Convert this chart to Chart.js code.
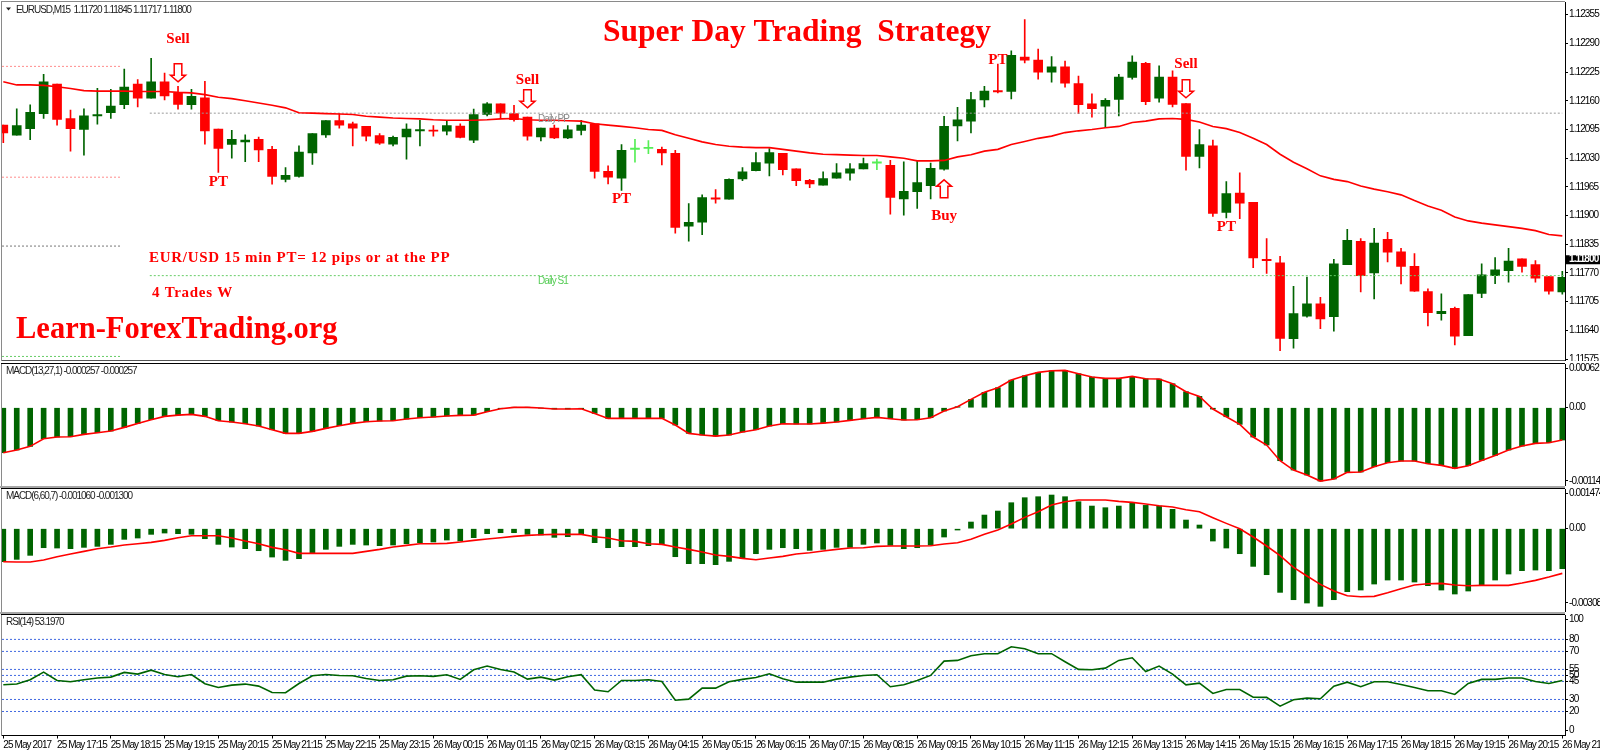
<!DOCTYPE html>
<html>
<head>
<meta charset="utf-8">
<title>Super Day Trading Strategy</title>
<script src="https://cdn.jsdelivr.net/npm/chart.js"></script>
<style>
  html, body { margin: 0; padding: 0; background: #fff; overflow: hidden; }
  canvas { position: absolute; left: 0; display: block; }
  .band { position: absolute; left: 0; width: 1565px; height: 2px; background: #a6a6a6; }
</style>
</head>
<body>
<canvas id="priceChart" width="1600" height="361" style="top:0"></canvas>
<canvas id="macdFast" width="1600" height="123" style="top:363px"></canvas>
<div class="band" style="top:486px"></div>
<canvas id="macdSlow" width="1600" height="124" style="top:488px"></canvas>
<div class="band" style="top:612px"></div>
<canvas id="rsiChart" width="1600" height="139" style="top:614px"></canvas>
<script>
// ── Data ──────────────────────────────────────────────────────────
const opens = [
  1.12105,1.12082,1.12097,1.12131,1.12198,1.12120,1.12095,1.12126,1.12133,1.12151,
  1.12198,1.12166,1.12203,1.12177,1.12151,1.12167,1.12096,1.12061,1.12067,1.12073,
  1.12050,1.11982,1.11989,1.12042,1.12083,1.12115,1.12108,1.12102,1.12081,1.12062,
  1.12078,1.12092,1.12093,1.12091,1.12103,1.12071,1.12129,1.12153,1.12131,1.12123,
  1.12078,1.12098,1.12076,1.12093,1.12108,1.12000,1.11985,1.12050,1.12052,1.12050,
  1.12041,1.11876,1.11885,1.11940,1.11937,1.11983,1.12002,1.12019,1.12041,1.12006,
  1.11980,1.11969,1.11985,1.11996,1.12006,1.12019,1.12014,1.11938,1.11954,1.11968,
  1.12005,1.12103,1.12114,1.12162,1.12183,1.12181,1.12259,1.12252,1.12225,1.12237,
  1.12199,1.12153,1.12148,1.12163,1.12213,1.12245,1.12166,1.12214,1.12154,1.12034,
  1.12058,1.11907,1.11951,1.11930,1.11801,1.11793,1.11621,1.11672,1.11700,1.11671,
  1.11789,1.11842,1.11770,1.11846,1.11818,1.11785,1.11728,1.11678,1.11690,1.11628,
  1.11724,1.11764,1.11775,1.11802,1.11789,1.11762,1.11727
]
const highs = [
  1.12105,1.12142,1.12151,1.12220,1.12198,1.12139,1.12142,1.12188,1.12186,1.12232,
  1.12208,1.12256,1.12223,1.12193,1.12186,1.12204,1.12096,1.12093,1.12083,1.12078,
  1.12057,1.12009,1.12058,1.12086,1.12115,1.12131,1.12112,1.12102,1.12086,1.12080,
  1.12108,1.12116,1.12104,1.12116,1.12108,1.12141,1.12156,1.12153,1.12150,1.12123,
  1.12098,1.12105,1.12104,1.12116,1.12108,1.12013,1.12061,1.12073,1.12070,1.12055,
  1.12048,1.11927,1.11947,1.11959,1.11983,1.12009,1.12043,1.12052,1.12041,1.12006,
  1.11982,1.11999,1.12018,1.12018,1.12030,1.12028,1.12025,1.12022,1.12024,1.12019,
  1.12125,1.12145,1.12179,1.12193,1.12243,1.12273,1.12344,1.12277,1.12260,1.12250,
  1.12216,1.12176,1.12165,1.12220,1.12262,1.12247,1.12239,1.12228,1.12154,1.12095,
  1.12071,1.11977,1.11997,1.11930,1.11848,1.11808,1.11740,1.11761,1.11715,1.11801,
  1.11869,1.11848,1.11871,1.11862,1.11826,1.11814,1.11734,1.11723,1.11693,1.11721,
  1.11791,1.11805,1.11826,1.11802,1.11798,1.11762,1.11774
]
const lows = [
  1.12065,1.12082,1.12072,1.12120,1.12105,1.12046,1.12037,1.12107,1.12120,1.12142,
  1.12146,1.12166,1.12162,1.12141,1.12141,1.12062,1.11998,1.12030,1.12022,1.12022,
  1.11971,1.11976,1.11987,1.12016,1.12077,1.12098,1.12058,1.12069,1.12061,1.12058,
  1.12028,1.12058,1.12080,1.12083,1.12076,1.12065,1.12126,1.12120,1.12114,1.12071,
  1.12069,1.12074,1.12074,1.12083,1.11985,1.11972,1.11957,1.12021,1.12040,1.12015,
  1.11860,1.11842,1.11857,1.11928,1.11937,1.11979,1.12001,1.11990,1.11992,1.11968,
  1.11963,1.11969,1.11985,1.11980,1.12006,1.12004,1.11903,1.11901,1.11916,1.11938,
  1.12003,1.12069,1.12087,1.12146,1.12178,1.12164,1.12246,1.12209,1.12202,1.12191,
  1.12131,1.12123,1.12099,1.12126,1.12209,1.12151,1.12157,1.12146,1.12003,1.12008,
  1.11898,1.11895,1.11893,1.11782,1.11769,1.11594,1.11600,1.11670,1.11644,1.11638,
  1.11789,1.11727,1.11711,1.11795,1.11745,1.11728,1.11650,1.11663,1.11607,1.11628,
  1.11714,1.11746,1.11749,1.11772,1.11749,1.11722,1.11722
]
const closes = [
  1.12087,1.12104,1.12134,1.12203,1.12118,1.12097,1.12126,1.12129,1.12148,1.12191,
  1.12166,1.12203,1.12171,1.12152,1.12170,1.12092,1.12052,1.12073,1.12071,1.12049,
  1.11989,1.11991,1.12044,1.12086,1.12115,1.12105,1.12098,1.12080,1.12064,1.12077,
  1.12096,1.12095,1.12091,1.12104,1.12077,1.12129,1.12153,1.12132,1.12117,1.12080,
  1.12098,1.12076,1.12094,1.12105,1.12000,1.11987,1.12048,1.12050,1.12052,1.12042,
  1.11873,1.11885,1.11941,1.11937,1.11982,1.11999,1.12020,1.12043,1.12004,1.11979,
  1.11972,1.11984,1.11997,1.12006,1.12018,1.12019,1.11941,1.11955,1.11975,1.12007,
  1.12102,1.12117,1.12163,1.12182,1.12180,1.12263,1.12252,1.12225,1.12237,1.12200,
  1.12151,1.12142,1.12161,1.12214,1.12248,1.12158,1.12214,1.12152,1.12034,1.12061,
  1.11905,1.11950,1.11928,1.11804,1.11798,1.11622,1.11678,1.11700,1.11666,1.11791,
  1.11844,1.11764,1.11838,1.11817,1.11785,1.11729,1.11680,1.11683,1.11627,1.11721,
  1.11766,1.11777,1.11797,1.11785,1.11758,1.11729,1.11760
]
const movingAverage = [
  1.12203,1.12196,1.12196,1.12195,1.12192,1.12188,1.12183,1.12182,1.12182,1.12182,
  1.12181,1.12181,1.12181,1.12179,1.12178,1.12174,1.12168,1.12165,1.12160,1.12155,
  1.12150,1.12144,1.12133,1.12132,1.12131,1.12130,1.12129,1.12125,1.12123,1.12121,
  1.12120,1.12119,1.12117,1.12116,1.12116,1.12116,1.12117,1.12119,1.12120,1.12117,
  1.12116,1.12116,1.12115,1.12114,1.12108,1.12105,1.12102,1.12099,1.12095,1.12093,
  1.12083,1.12075,1.12067,1.12061,1.12057,1.12055,1.12054,1.12054,1.12050,1.12046,
  1.12042,1.12039,1.12038,1.12037,1.12036,1.12036,1.12033,1.12030,1.12024,1.12024,
  1.12025,1.12033,1.12038,1.12046,1.12050,1.12061,1.12068,1.12075,1.12080,1.12088,
  1.12092,1.12095,1.12099,1.12102,1.12111,1.12114,1.12119,1.12120,1.12118,1.12112,
  1.12102,1.12097,1.12088,1.12075,1.12061,1.12039,1.12021,1.12006,1.11990,1.11982,
  1.11977,1.11967,1.11960,1.11954,1.11947,1.11934,1.11922,1.11912,1.11897,1.11888,
  1.11883,1.11879,1.11875,1.11871,1.11866,1.11857,1.11854
]
const priceTicks = [1.12355,1.12290,1.12225,1.12160,1.12095,1.12030,1.11965,1.11900,1.11835,1.11770,1.11705,1.11640,1.11575]
const lastPrice = 1.11800

// yesterday's levels stop early, today's run on to the last bar
const prevDayLevels = [1.12238, 1.11987, 1.11831, 1.11581]
const prevDayColors = ["#ff8c8c", "#ff8c8c", "#777777", "#66cc66"]
const todayPP = 1.12132
const todayS1 = 1.11764
const prevDayEnd = 8.75
const todayStart = 10.9
const todayEnd = 116

const signalTexts  = ["Sell", "Sell", "Sell", "Buy", "PT", "PT", "PT", "PT"]
const signalBars   = [13, 39, 88, 70, 16, 46, 74, 91]
const signalPrices = [1.12291, 1.12198, 1.12235, 1.11891, 1.11968, 1.11928, 1.12244, 1.11865]
const arrowBars    = [13, 39, 88, 70]
const arrowPrices  = [1.12203, 1.12144, 1.12167, 1.11981]
const arrowDirs    = [-1, -1, -1, 1]

// MACD(13,27,1): signal period is 1, so the bars and the line share values
const macdFastValues = [
  -0.000703,-0.000661,-0.000604,-0.000484,-0.000458,-0.000453,-0.000417,-0.000391,-0.000365,-0.000307,
  -0.000245,-0.000187,-0.000135,-0.000115,-0.000104,-0.000135,-0.000203,-0.000224,-0.000250,-0.000286,
  -0.000344,-0.000401,-0.000401,-0.000370,-0.000323,-0.000281,-0.000245,-0.000219,-0.000208,-0.000203,
  -0.000177,-0.000156,-0.000146,-0.000130,-0.000120,-0.000115,-0.000062,-0.000016,0.000005,0.000005,
  -0.000005,-0.000021,-0.000021,-0.000016,-0.000089,-0.000167,-0.000167,-0.000167,-0.000167,-0.000167,
  -0.000271,-0.000401,-0.000427,-0.000443,-0.000427,-0.000380,-0.000344,-0.000286,-0.000250,-0.000255,
  -0.000255,-0.000240,-0.000224,-0.000198,-0.000172,-0.000151,-0.000172,-0.000193,-0.000187,-0.000156,
  -0.000052,0.000016,0.000130,0.000240,0.000312,0.000432,0.000500,0.000552,0.000578,0.000583,
  0.000531,0.000479,0.000458,0.000458,0.000490,0.000453,0.000448,0.000375,0.000250,0.000177,
  -0.000021,-0.000141,-0.000260,-0.000458,-0.000583,-0.000828,-0.000974,-0.001052,-0.001146,-0.001115,
  -0.001010,-0.001005,-0.000922,-0.000859,-0.000833,-0.000833,-0.000875,-0.000901,-0.000948,-0.000906,
  -0.000823,-0.000745,-0.000661,-0.000599,-0.000557,-0.000547,-0.000505
]
const macdFastTicks = [0.00062, 0, -0.001141]

const macdSlowBars = [
  -0.001375,-0.001278,-0.001111,-0.000792,-0.000806,-0.000833,-0.000778,-0.000736,-0.000653,-0.000444,
  -0.000389,-0.000236,-0.000181,-0.000208,-0.000236,-0.000417,-0.000653,-0.000764,-0.000833,-0.000917,
  -0.001181,-0.001320,-0.001250,-0.001014,-0.000861,-0.000736,-0.000653,-0.000681,-0.000708,-0.000681,
  -0.000625,-0.000583,-0.000556,-0.000472,-0.000514,-0.000375,-0.000208,-0.000167,-0.000167,-0.000236,
  -0.000264,-0.000361,-0.000333,-0.000236,-0.000583,-0.000792,-0.000750,-0.000750,-0.000708,-0.000625,
  -0.001167,-0.001458,-0.001458,-0.001500,-0.001361,-0.001250,-0.001042,-0.000861,-0.000792,-0.000833,
  -0.000903,-0.000861,-0.000778,-0.000778,-0.000653,-0.000597,-0.000695,-0.000833,-0.000792,-0.000681,
  -0.000347,-0.000056,0.000278,0.000569,0.000736,0.001083,0.001292,0.001333,0.001403,0.001333,
  0.001125,0.000944,0.000875,0.000944,0.001083,0.000972,0.000944,0.000806,0.000361,0.000153,
  -0.000514,-0.000806,-0.001042,-0.001570,-0.001917,-0.002653,-0.002959,-0.003097,-0.003236,-0.002959,
  -0.002625,-0.002556,-0.002306,-0.002139,-0.002139,-0.002222,-0.002375,-0.002556,-0.002722,-0.002597,
  -0.002347,-0.002139,-0.001889,-0.001750,-0.001722,-0.001750,-0.001667
]
const macdSlowSignal = [
  -0.001375,-0.001389,-0.001389,-0.001306,-0.001167,-0.001056,-0.000945,-0.000833,-0.000764,-0.000681,
  -0.000625,-0.000569,-0.000486,-0.000375,-0.000292,-0.000292,-0.000292,-0.000389,-0.000514,-0.000625,
  -0.000778,-0.000875,-0.001028,-0.001028,-0.001028,-0.001028,-0.001028,-0.000945,-0.000861,-0.000764,
  -0.000695,-0.000625,-0.000625,-0.000611,-0.000556,-0.000486,-0.000431,-0.000375,-0.000319,-0.000278,
  -0.000250,-0.000236,-0.000236,-0.000236,-0.000333,-0.000389,-0.000500,-0.000528,-0.000625,-0.000653,
  -0.000764,-0.000861,-0.000972,-0.001097,-0.001153,-0.001236,-0.001292,-0.001222,-0.001153,-0.001056,
  -0.001000,-0.000931,-0.000861,-0.000806,-0.000792,-0.000736,-0.000722,-0.000722,-0.000722,-0.000708,
  -0.000639,-0.000583,-0.000444,-0.000236,-0.000056,0.000194,0.000472,0.000708,0.000986,0.001125,
  0.001194,0.001194,0.001194,0.001139,0.001097,0.001028,0.000958,0.000903,0.000792,0.000708,
  0.000458,0.000222,0,-0.000347,-0.000722,-0.001125,-0.001611,-0.001972,-0.002320,-0.002597,
  -0.002792,-0.002834,-0.002820,-0.002667,-0.002500,-0.002347,-0.002292,-0.002278,-0.002347,-0.002375,
  -0.002361,-0.002361,-0.002361,-0.002264,-0.002153,-0.002014,-0.001861
]
const macdSlowTicks = [0.001474, 0, -0.003086]

const rsiValues = [
  42.2,42.8,46.4,52.8,45.8,44.7,46.4,47.8,48.6,52.5,
  51.1,54.4,50.8,48.9,50.8,43.1,40.0,41.9,42.8,41.1,
  35.8,35.6,43.3,49.7,50.8,50.0,49.7,47.5,45.8,46.4,
  49.4,49.7,49.2,50.6,46.7,54.7,57.8,55.0,52.8,46.9,
  48.6,46.1,48.9,50.6,37.8,36.4,45.8,45.8,46.4,45.0,
  29.4,30.3,39.4,39.4,44.7,46.7,48.3,51.4,47.2,44.4,
  44.4,44.4,46.9,48.6,50.0,50.6,40.6,42.2,45.8,50.0,
  61.9,62.5,66.4,68.1,68.1,73.9,72.2,68.1,68.1,61.4,
  55.0,54.7,56.1,62.5,64.7,53.3,57.8,51.1,42.2,43.6,
  35.0,38.3,38.3,31.9,31.7,24.4,29.7,31.1,30.6,41.1,
  44.4,40.6,44.7,44.7,42.5,40.0,37.2,37.2,34.2,43.3,
  46.7,46.7,47.8,47.8,45.0,43.3,45.8
]
const rsiLevels = [80, 70, 55, 50, 45, 30, 20]
// the terminal pulls its 100 and 0 captions inside the pane
const rsiTickValues = [96.4, 80, 70, 55, 50, 45, 30, 20, 4.2]
const rsiTickLabels = ["100", "80", "70", "55", "50", "45", "30", "20", "0"]

const timeTickBars = [0,4,8,12,16,20,24,28,32,36,40,44,48,52,56,60,64,68,72,76,80,84,88,92,96,100,104,108,112,116]
const timeLabels = [
  "25 May 2017","25 May 17:15","25 May 18:15","25 May 19:15","25 May 20:15","25 May 21:15",
  "25 May 22:15","25 May 23:15","26 May 00:15","26 May 01:15","26 May 02:15","26 May 03:15",
  "26 May 04:15","26 May 05:15","26 May 06:15","26 May 07:15","26 May 08:15","26 May 09:15",
  "26 May 10:15","26 May 11:15","26 May 12:15","26 May 13:15","26 May 14:15","26 May 15:15",
  "26 May 16:15","26 May 17:15","26 May 18:15","26 May 19:15","26 May 20:15","26 May 21:15"
]

// ── Shared look ───────────────────────────────────────────────────
const GREEN = "#006400"
const RED = "#ff0000"
const LIME = "#55ee55"
const SMALL_FAMILY = '"Liberation Sans"'
const SMALL_SQUEEZE = "-0.9px"
const CAPTION_SQUEEZE = "-1.05px"
const AXIS_FONT = { family: SMALL_FAMILY, size: 10 }
const SERIF_BOLD = '"Liberation Serif"'
const LINE_WIDTH = 1.6
const AXIS_WIDTH = 35
const X_MIN = -0.097
const X_MAX = 116.2

// terminal captions are narrow, and the scale options have no letter spacing
Chart.register({
  id: "tightText",
  beforeDraw(chart) { chart.ctx.letterSpacing = SMALL_SQUEEZE },
})

const barIndex = opens.map((_, i) => i)
const candleColor = barIndex.map(i =>
  closes[i] > opens[i] ? GREEN : closes[i] < opens[i] ? RED : LIME)

const hline = (from, to, y, color) => ({
  type: "line",
  data: [{ x: from, y }, { x: to, y }],
  borderColor: color,
  borderWidth: 1,
  borderDash: [2, 2],
  pointRadius: 0,
  order: 1,
})

const series = (values, color, width) => ({
  type: "line",
  data: values.map((y, x) => ({ x, y })),
  borderColor: color,
  borderWidth: width,
  pointRadius: 0,
  tension: 0,
  order: 0,
})

const paneFrame = topColor => ({
  id: "paneFrame",
  afterDraw(chart) {
    const { ctx, chartArea: a } = chart
    ctx.save()
    ctx.lineWidth = 1
    ctx.strokeStyle = "#8a8a8a"
    ctx.beginPath()
    ctx.moveTo(a.left - 0.5, a.bottom + 0.5)
    ctx.lineTo(a.left - 0.5, a.top - 0.5)
    ctx.stroke()
    ctx.strokeStyle = topColor
    ctx.beginPath()
    ctx.moveTo(a.left - 1, a.top - 0.5)
    ctx.lineTo(a.right, a.top - 0.5)
    ctx.stroke()
    ctx.restore()
  }
})

const paneCaption = text => ({
  id: "paneCaption",
  afterDraw(chart) {
    const { ctx, chartArea: a } = chart
    ctx.save()
    ctx.font = `10px ${SMALL_FAMILY}`
    ctx.letterSpacing = CAPTION_SQUEEZE
    ctx.fillStyle = "#222"
    ctx.textBaseline = "middle"
    ctx.fillText(text, 6, a.top + 7.5)
    ctx.restore()
  }
})

const noAutoPadding = s => {
  s.paddingLeft = s.paddingRight = s.paddingTop = s.paddingBottom = 0
}

const paneOptions = (yMin, yMax, tickValues, tickText, padding, showTime) => ({
  responsive: false,
  devicePixelRatio: 1,
  animation: false,
  layout: { autoPadding: false, padding },
  plugins: { legend: { display: false }, tooltip: { enabled: false } },
  scales: {
    x: {
      type: "linear",
      display: showTime,
      offset: false,
      min: X_MIN,
      max: X_MAX,
      afterBuildTicks: s => { s.ticks = timeTickBars.map(value => ({ value })) },
      afterFit: s => {
        noAutoPadding(s)
        if (showTime) s.height = 17.5
      },
      border: { color: "#000" },
      grid: { drawOnChartArea: false, tickLength: 3, color: "#000" },
      ticks: {
        autoSkip: false,
        maxRotation: 0,
        align: "start",
        padding: 1,
        color: "#000",
        font: AXIS_FONT,
        callback: value => timeLabels[timeTickBars.indexOf(value)],
      },
    },
    y: {
      position: "right",
      min: yMin,
      max: yMax,
      afterBuildTicks: s => { s.ticks = tickValues.map(value => ({ value })) },
      afterFit: s => {
        noAutoPadding(s)
        s.width = AXIS_WIDTH
      },
      border: { color: "#000" },
      grid: { drawOnChartArea: false, tickLength: 3, color: "#000" },
      ticks: {
        autoSkip: false,
        padding: 1,
        color: "#000",
        font: AXIS_FONT,
        callback: tickText,
      },
    },
  },
})

// ── Price pane: candles, moving average, pivots and trade notes ───
const tradeNotes = {
  id: "tradeNotes",
  afterDraw(chart) {
    const { ctx, chartArea: a, scales: { x, y } } = chart
    ctx.save()

    ctx.strokeStyle = "#555"
    ctx.beginPath()
    ctx.moveTo(a.left - 1, a.bottom)
    ctx.lineTo(a.right, a.bottom)
    ctx.stroke()

    // outlined arrows
    ctx.strokeStyle = RED
    ctx.fillStyle = "#fff"
    ctx.lineWidth = 1.5
    arrowBars.forEach((bar, n) => {
      const cx = x.getPixelForValue(bar)
      const tip = y.getPixelForValue(arrowPrices[n])
      const d = arrowDirs[n]
      ctx.beginPath()
      ctx.moveTo(cx, tip)
      ctx.lineTo(cx + 7.5, tip + d * 6.5)
      ctx.lineTo(cx + 3.8, tip + d * 6.5)
      ctx.lineTo(cx + 3.8, tip + d * 18)
      ctx.lineTo(cx - 3.8, tip + d * 18)
      ctx.lineTo(cx - 3.8, tip + d * 6.5)
      ctx.lineTo(cx - 7.5, tip + d * 6.5)
      ctx.closePath()
      ctx.fill()
      ctx.stroke()
    })

    // Sell / Buy / PT captions
    ctx.letterSpacing = "0px"
    ctx.fillStyle = RED
    ctx.textAlign = "center"
    ctx.textBaseline = "alphabetic"
    ctx.font = `bold 15px ${SERIF_BOLD}`
    signalTexts.forEach((text, n) => {
      ctx.fillText(text, x.getPixelForValue(signalBars[n]), y.getPixelForValue(signalPrices[n]))
    })

    ctx.textAlign = "left"
    ctx.font = `bold 31.5px ${SERIF_BOLD}`
    ctx.fillText("Super Day Trading  Strategy", 603, 41)
    ctx.font = `bold 30.5px ${SERIF_BOLD}`
    ctx.fillText("Learn-ForexTrading.org", 16, 338)
    ctx.font = `bold 15px ${SERIF_BOLD}`
    ctx.letterSpacing = "0.7px"
    ctx.fillText("EUR/USD 15 min PT= 12 pips or at the PP", 149, 262)
    ctx.fillText("4 Trades W", 152, 297)

    // pivot captions
    ctx.letterSpacing = SMALL_SQUEEZE
    ctx.font = `10px ${SMALL_FAMILY}`
    ctx.fillStyle = "#8a8a8a"
    ctx.fillText("Daily PP", 538, 122)
    ctx.fillStyle = "#55cc55"
    ctx.fillText("Daily S1", 538, 284)

    // symbol header
    ctx.letterSpacing = CAPTION_SQUEEZE
    ctx.fillStyle = "#222"
    ctx.fillText("EURUSD,M15  1.11720 1.11845 1.11717 1.11800", 16, 13)
    ctx.beginPath()
    ctx.moveTo(6, 7.5)
    ctx.lineTo(11, 7.5)
    ctx.lineTo(8.5, 10.5)
    ctx.closePath()
    ctx.fill()

    // last price box on the axis
    const py = y.getPixelForValue(lastPrice)
    ctx.letterSpacing = SMALL_SQUEEZE
    ctx.fillStyle = "#000"
    ctx.fillRect(1566, py - 4.5, 34, 9)
    ctx.fillStyle = "#fff"
    ctx.font = `bold 10px ${SMALL_FAMILY}`
    ctx.textBaseline = "middle"
    ctx.fillText(lastPrice.toFixed(5), 1569, py)
    ctx.restore()
  }
}

new Chart(document.getElementById("priceChart"), {
  type: "bar",
  data: {
    datasets: [
      series(movingAverage, RED, LINE_WIDTH),
      ...prevDayLevels.map((lvl, n) => hline(X_MIN, prevDayEnd, lvl, prevDayColors[n])),
      hline(todayStart, todayEnd, todayPP, "#999999"),
      hline(todayStart, X_MAX, todayS1, "#66cc66"),
      {
        data: barIndex.map(x => ({ x, y: [opens[x], closes[x]] })),
        backgroundColor: candleColor,
        barThickness: 9,
        minBarLength: 1.2,
        grouped: false,
        order: 2,
      },
      {
        data: barIndex.map(x => ({ x, y: [lows[x], highs[x]] })),
        backgroundColor: candleColor,
        barThickness: 1,
        grouped: false,
        order: 3,
      },
    ],
  },
  options: paneOptions(1.115718, 1.123838, priceTicks, v => v.toFixed(5),
    { top: 2, left: 2, bottom: 0.5 }, false),
  plugins: [tradeNotes, paneFrame("#8a8a8a")],
})

// ── MACD(13,27,1) ─────────────────────────────────────────────────
new Chart(document.getElementById("macdFast"), {
  type: "bar",
  data: {
    datasets: [
      series(macdFastValues, RED, LINE_WIDTH),
      {
        data: barIndex.map(x => ({ x, y: macdFastValues[x] })),
        backgroundColor: GREEN,
        barThickness: 5,
        grouped: false,
        order: 1,
      },
    ],
  },
  options: paneOptions(-0.001223, 0.000683, macdFastTicks,
    v => v === 0 ? "0.00" : v.toFixed(Math.abs(v) < 0.001 ? 5 : 6),
    { top: 1, left: 2 }, false),
  plugins: [paneFrame("#000"), paneCaption("MACD(13,27,1) -0.000257 -0.000257")],
})

// ── MACD(6,60,7) ──────────────────────────────────────────────────
new Chart(document.getElementById("macdSlow"), {
  type: "bar",
  data: {
    datasets: [
      series(macdSlowSignal, RED, LINE_WIDTH),
      {
        data: barIndex.map(x => ({ x, y: macdSlowBars[x] })),
        backgroundColor: GREEN,
        barThickness: 5,
        grouped: false,
        order: 1,
      },
    ],
  },
  options: paneOptions(-0.003471, 0.001654, macdSlowTicks,
    v => v === 0 ? "0.00" : v.toFixed(6),
    { top: 1, left: 2 }, false),
  plugins: [paneFrame("#000"), paneCaption("MACD(6,60,7) -0.001060 -0.001300")],
})

// ── RSI(14) with the time axis ────────────────────────────────────
new Chart(document.getElementById("rsiChart"), {
  type: "line",
  data: {
    datasets: [
      series(rsiValues, GREEN, LINE_WIDTH),
      ...rsiLevels.map(lvl => hline(X_MIN, X_MAX, lvl, "#4169e1")),
    ],
  },
  options: paneOptions(0, 100.3, rsiTickValues, v => rsiTickLabels[rsiTickValues.indexOf(v)],
    { top: 1, left: 2 }, true),
  plugins: [paneFrame("#000"), paneCaption("RSI(14) 53.1970")],
})
</script>
</body>
</html>
